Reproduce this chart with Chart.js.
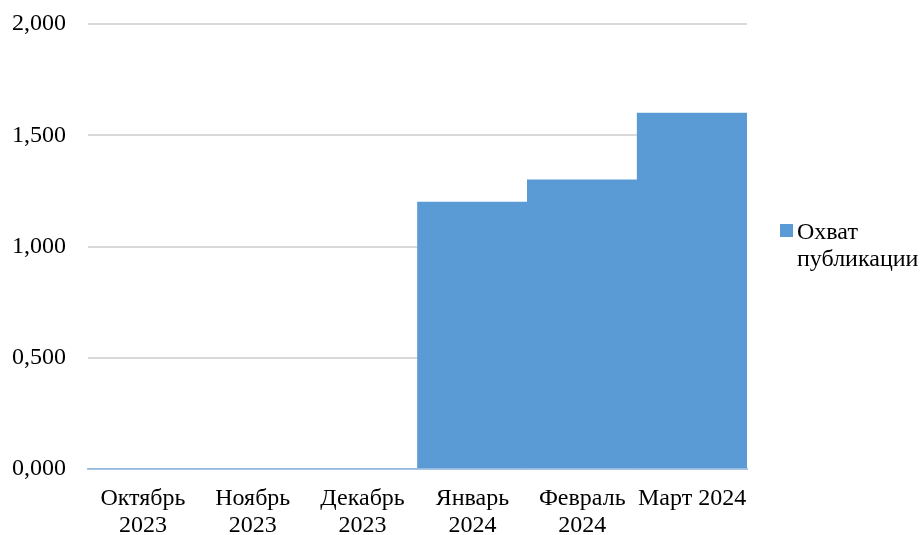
<!DOCTYPE html>
<html>
<head>
<meta charset="utf-8">
<script src="https://cdn.jsdelivr.net/npm/chart.js@4"></script>
<style>
    body { margin: 0; background: #fff; }
    #wrap { position: relative; width: 923px; height: 535px; }
    #legenda { position: absolute; left: 780px; top: 218px; font: 24px "Liberation Serif", serif; color: #000; line-height: 27px; }
    #legenda .box { position: absolute; left: 0; top: 6px; width: 13px; height: 13px; background: #5b9bd5; }
    #legenda .txt { margin-left: 17px; }
</style>
</head>
<body>
<div id="wrap">
    <canvas id="grafico" width="923" height="535"></canvas>
    <div id="legenda"><span class="box"></span><div class="txt">Охват<br>публикации</div></div>
</div>
<script>
const meses = [['Октябрь', '2023'], ['Ноябрь', '2023'], ['Декабрь', '2023'], ['Январь', '2024'], ['Февраль', '2024'], ['Март 2024']];
const serieNome = 'Охват публикации';
const serieValores = [0, 0, 0, 1200, 1300, 1600];
const eixoY = { min: 0, max: 2000, passo: 500 };

function formatarValor(valor) {
    const inteiro = Math.floor(valor / 1000);
    const resto = String(Math.round(valor % 1000)).padStart(3, '0');
    return `${inteiro},${resto}`;
}

const fonte = { family: '"Liberation Serif", "Times New Roman", serif', size: 24, lineHeight: 1.12 };

new Chart(document.getElementById('grafico'), {
    type: 'bar',
    data: {
        labels: meses,
        datasets: [{
            label: serieNome,
            data: serieValores,
            backgroundColor: '#5b9bd5',
            barPercentage: 1,
            categoryPercentage: 1,
            borderWidth: 0
        }]
    },
    options: {
        responsive: false,
        animation: false,
        layout: { padding: { top: 24, right: 176, left: 0, bottom: 0 } },
        plugins: {
            legend: { display: false },
            tooltip: { enabled: false }
        },
        scales: {
            x: {
                grid: { display: false, drawTicks: false },
                border: { color: '#a8c6e4', width: 2 },
                ticks: { color: '#000', font: fonte, padding: 16, maxRotation: 0, autoSkip: false },
                afterFit(escala) {
                    escala.height = 66;
                    escala.paddingLeft = 0;
                    escala.paddingRight = 0;
                }
            },
            y: {
                min: eixoY.min,
                max: eixoY.max,
                grid: { color: '#d9d9d9', lineWidth: 2, drawTicks: false },
                border: { display: false },
                ticks: {
                    stepSize: eixoY.passo,
                    color: '#000',
                    font: fonte,
                    padding: 22,
                    callback(valor) { return formatarValor(valor); }
                },
                afterFit(escala) {
                    escala.width = 88;
                    escala.paddingTop = 0;
                    escala.paddingBottom = 0;
                }
            }
        }
    }
});
</script>
</body>
</html>
